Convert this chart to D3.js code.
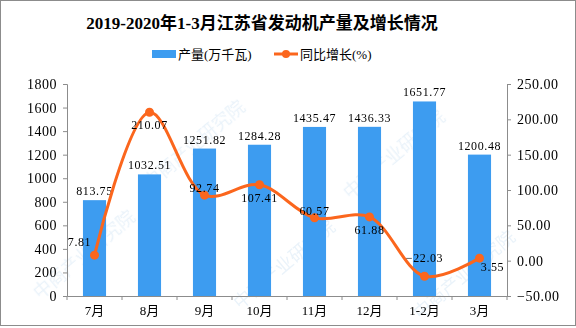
<!DOCTYPE html>
<html>
<head>
<meta charset="utf-8">
<script src="https://cdn.jsdelivr.net/npm/d3@7"></script>
<style>
  body { margin: 0; background: #fff; }
  text { font-family: "Liberation Serif", "Noto Sans CJK SC", serif; }
</style>
</head>
<body>
<script>
// data
const months = ['7月', '8月', '9月', '10月', '11月', '12月', '1-2月', '3月'];
const output = [813.75, 1032.51, 1251.82, 1284.28, 1435.47, 1436.33, 1651.77, 1200.48];
const growth = [7.81, 210.07, 92.74, 107.41, 60.57, 61.88, -22.03, 3.55];
const leftTicks = [0, 200, 400, 600, 800, 1000, 1200, 1400, 1600, 1800];
const rightTicks = [-50, 0, 50, 100, 150, 200, 250];
// where each growth label sits relative to its dot
const growthLabelPos = ['left', 'below', 'center', 'below', 'center', 'below', 'above', 'right'];

const W = 576, H = 328;
const margin = {top: 84, left: 67, right: 69, bottom: 32};
const barColor = '#3d9cf0';
const lineColor = '#fb661d';
const axisColor = '#8c8c8c';

const svg = d3.select('body').append('svg')
    .attr('width', W)
    .attr('height', H);

// outer frame
svg.append('rect')
    .attr('x', 0.5).attr('y', 0.5)
    .attr('width', W - 1).attr('height', H - 3)
    .attr('fill', 'none')
    .attr('stroke', axisColor);

// faint watermarks, kept inside the frame
const wm = svg.append('g').attr('fill', '#b9d6ee').attr('opacity', 0.3)
    .style('font-size', '18px').style('font-family', 'Noto Sans CJK SC');
[[150, 190], [350, 200], [40, 300], [240, 310], [420, 320]].forEach(([x, y]) => {
    wm.append('text')
        .attr('transform', `translate(${x},${y}) rotate(-40)`)
        .text('中商产业研究院');
});

const x = d3.scaleBand()
    .domain(months)
    .range([margin.left, W - margin.right]);

const yL = d3.scaleLinear()
    .domain([0, 1800])
    .range([H - margin.bottom, margin.top]);

const yR = d3.scaleLinear()
    .domain([-50, 250])
    .range([H - margin.bottom, margin.top]);

// title
svg.append('text')
    .attr('x', 262).attr('y', 29)
    .attr('text-anchor', 'middle')
    .style('font-size', '17px')
    .style('font-weight', 'bold')
    .text('2019-2020年1-3月江苏省发动机产量及增长情况');

// legend
const lg = svg.append('g').style('font-size', '13px');
lg.append('rect').attr('x', 152).attr('y', 50).attr('width', 24).attr('height', 8).attr('fill', barColor);
lg.append('text').attr('x', 178).attr('y', 59).text('产量(万千瓦)');
lg.append('line').attr('x1', 274).attr('x2', 298).attr('y1', 54).attr('y2', 54)
    .attr('stroke', lineColor).attr('stroke-width', 3);
lg.append('circle').attr('cx', 286).attr('cy', 54).attr('r', 4).attr('fill', lineColor);
lg.append('text').attr('x', 300).attr('y', 59).text('同比增长(%)');

// axes
const axL = svg.append('g')
    .attr('transform', `translate(${margin.left},0)`)
    .call(d3.axisLeft(yL).tickValues(leftTicks).tickSize(4).tickPadding(6).tickFormat(d3.format('d')));
const axR = svg.append('g')
    .attr('transform', `translate(${W - margin.right},0)`)
    .call(d3.axisRight(yR).tickValues(rightTicks).tickSize(4).tickPadding(6).tickFormat(d3.format('.2f')));
const axX = svg.append('g')
    .attr('transform', `translate(0,${H - margin.bottom})`)
    .call(d3.axisBottom(x).tickSize(0).tickPadding(10));

// category boundary ticks
axX.selectAll('.bound')
    .data(d3.range(months.length + 1))
    .join('line')
    .attr('class', 'bound')
    .attr('x1', i => margin.left + i * x.step())
    .attr('x2', i => margin.left + i * x.step())
    .attr('y1', 0).attr('y2', 4)
    .attr('stroke', axisColor);

[axL, axR, axX].forEach(a => {
    a.select('.domain').attr('stroke', axisColor);
    a.selectAll('.tick line').attr('stroke', axisColor);
    a.selectAll('.tick text').attr('fill', '#000').style('font-size', '14px')
        .attr('letter-spacing', '0.5px')
        .style('font-family', '"Liberation Serif", "Noto Sans CJK SC", serif');
});
axX.selectAll('.tick text').style('font-size', '13px').attr('letter-spacing', null);

// bars
const barW = x.bandwidth() * 0.42;
svg.append('g')
    .selectAll('rect')
    .data(output)
    .join('rect')
    .attr('x', (d, i) => x(months[i]) + (x.bandwidth() - barW) / 2)
    .attr('y', d => yL(d))
    .attr('width', barW)
    .attr('height', d => yL(0) - yL(d))
    .attr('fill', barColor);

svg.append('g')
    .style('font-size', '12px')
    .attr('text-anchor', 'middle')
    .selectAll('text')
    .data(output)
    .join('text')
    .attr('x', (d, i) => x(months[i]) + x.bandwidth() / 2)
    .attr('y', d => yL(d) - 5)
    .attr('letter-spacing', '0.6px')
    .text(d => d3.format('.2f')(d));

// growth line
const cx = i => x(months[i]) + x.bandwidth() / 2;
const line = d3.line()
    .x((d, i) => cx(i))
    .y(d => yR(d))
    .curve(d3.curveCatmullRom.alpha(0.5));

svg.append('path')
    .datum(growth)
    .attr('d', line)
    .attr('fill', 'none')
    .attr('stroke', lineColor)
    .attr('stroke-width', 3);

svg.append('g')
    .selectAll('circle')
    .data(growth)
    .join('circle')
    .attr('cx', (d, i) => cx(i))
    .attr('cy', d => yR(d))
    .attr('r', 4.5)
    .attr('fill', lineColor);

const offs = {
    left:   [-15, -9],
    below:  [0, 17],
    center: [0, -3],
    above:  [0, -14],
    right:  [13, 13]
};
svg.append('g')
    .style('font-size', '12px')
    .attr('text-anchor', 'middle')
    .selectAll('text')
    .data(growth)
    .join('text')
    .attr('x', (d, i) => cx(i) + offs[growthLabelPos[i]][0])
    .attr('y', (d, i) => yR(d) + offs[growthLabelPos[i]][1])
    .attr('letter-spacing', '0.6px')
    .text(d => d3.format('.2f')(d));
</script>
</body>
</html>
